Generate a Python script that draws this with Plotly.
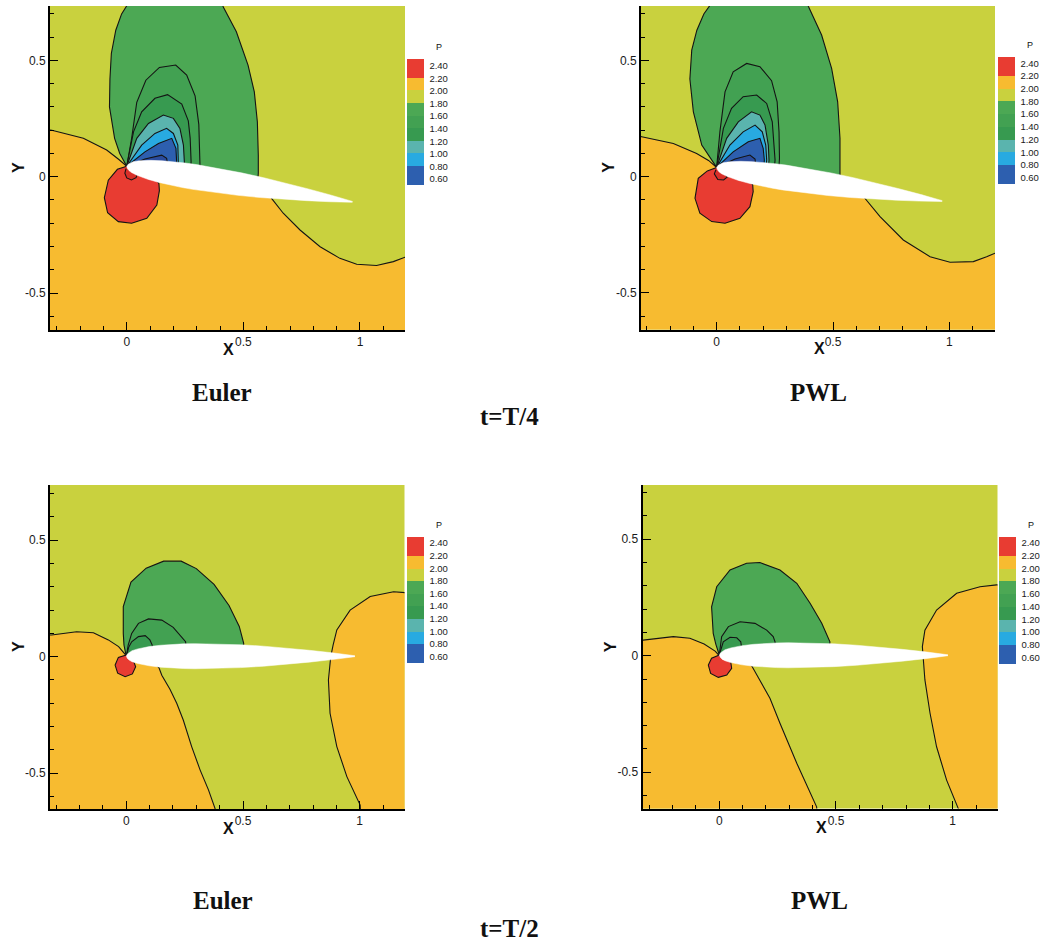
import plotly.graph_objects as go
import math

FIG_W, FIG_H = 1048, 943

# ---------------- legend / colour data ----------------
P_LEVELS = [0.60, 0.80, 1.00, 1.20, 1.40, 1.60, 1.80, 2.00, 2.20, 2.40]
BAND_EDGES = [0.5, 0.8, 1.0, 1.2, 1.4, 1.6, 1.8, 2.0, 2.2, 2.5]
BAND_KEYS = ["db", "lb", "t", "g3", "g2", "g1", "y", "o", "r"]

COLORS = {
    "r2": "#d72f29",   # > 2.40
    "r": "#e83c32",    # 2.20 - 2.40
    "o": "#f7bb30",    # 2.00 - 2.20
    "y": "#c9d13e",    # 1.80 - 2.00
    "g1": "#4ca854",   # 1.60 - 1.80
    "g2": "#42a152",   # 1.40 - 1.60
    "g3": "#379a50",   # 1.20 - 1.40
    "t": "#5ab4ae",    # 1.00 - 1.20
    "lb": "#28aae1",   # 0.80 - 1.00
    "db": "#2d5faf",   # 0.60 - 0.80
    "db2": "#2a4b9c",  # < 0.60
}

# ---------------- airfoil geometry ----------------
AF_STATION = [0, 0.005, 0.0125, 0.025, 0.05, 0.075, 0.10, 0.15, 0.20, 0.25,
              0.30, 0.40, 0.50, 0.60, 0.70, 0.80, 0.90, 0.95, 1.0]
AF_HALF = [0, 0.010, 0.017, 0.024, 0.032, 0.038, 0.042, 0.048, 0.052, 0.054,
           0.055, 0.054, 0.050, 0.044, 0.036, 0.026, 0.015, 0.009, 0.002]
AF_CHORD = 0.98
AF_LE = {"EA": (0.0, 0.045), "PA": (0.0, 0.040), "EB": (0.0, 0.002), "PB": (0.0, 0.002)}
AF_PITCH_DEG = {"EA": 9.0, "PA": 8.5, "EB": 0.0, "PB": 0.0}

# ---------------- contour regions: Euler, t=T/4 ----------------
EA_ORANGE = [(-0.45, 0.215), (-0.321, 0.20), (-0.186, 0.165), (-0.086, 0.115), (-0.035, 0.075),
             (0.0, 0.045), (0.30, -0.005), (0.60, -0.052), (0.621, -0.093), (0.671, -0.157),
             (0.743, -0.229), (0.829, -0.301), (0.914, -0.351), (0.986, -0.376), (1.071, -0.382),
             (1.143, -0.365), (1.193, -0.346), (1.30, -0.31), (1.30, -0.80), (-0.45, -0.80)]
EA_GREEN1 = [(0.0, 0.045), (-0.03, 0.10), (-0.052, 0.165), (-0.074, 0.30), (-0.072, 0.42),
             (-0.066, 0.53), (-0.047, 0.63), (-0.022, 0.70), (0.0, 0.735), (0.02, 0.80),
             (0.39, 0.80), (0.414, 0.73), (0.47, 0.623), (0.52, 0.48), (0.547, 0.365),
             (0.56, 0.236), (0.564, 0.093), (0.564, 0.015), (0.56, -0.04)]
EA_GREEN2 = [(0.0, 0.045), (0.021, 0.165), (0.043, 0.32), (0.082, 0.415), (0.14, 0.47),
             (0.21, 0.48), (0.257, 0.437), (0.293, 0.348), (0.309, 0.225), (0.313, 0.12),
             (0.314, 0.05), (0.31, 0.0)]
EA_GREEN3 = [(0.0, 0.045), (0.029, 0.193), (0.064, 0.279), (0.121, 0.337), (0.175, 0.353),
             (0.236, 0.312), (0.264, 0.240), (0.272, 0.165), (0.276, 0.064), (0.272, 0.0)]
EA_TEAL = [(0.0, 0.045), (0.043, 0.165), (0.093, 0.229), (0.157, 0.265), (0.20, 0.251),
           (0.228, 0.208), (0.243, 0.136), (0.247, 0.064), (0.245, 0.0)]
EA_LBLUE = [(0.0, 0.045), (0.064, 0.136), (0.121, 0.186), (0.171, 0.208), (0.20, 0.186),
            (0.219, 0.136), (0.221, 0.064), (0.22, 0.0)]
EA_DBLUE = [(0.0, 0.045), (0.078, 0.107), (0.136, 0.143), (0.193, 0.165), (0.211, 0.122),
            (0.214, 0.064), (0.21, 0.0)]
EA_DBLUE2 = [(0.0, 0.045), (0.078, 0.076), (0.15, 0.093), (0.171, 0.079), (0.176, 0.05), (0.17, 0.0)]
EA_RED = [(0.0, 0.045), (-0.04, 0.032), (-0.079, -0.015), (-0.096, -0.09), (-0.082, -0.155),
          (-0.036, -0.193), (0.021, -0.20), (0.086, -0.179), (0.129, -0.122), (0.14, -0.06),
          (0.138, -0.03), (0.12, 0.0)]
EA_RED2 = [(-0.003, 0.035), (-0.008, 0.015), (0.0, -0.005), (0.02, -0.014), (0.04, -0.004),
           (0.045, 0.01), (0.03, 0.03)]

# ---------------- contour regions: PWL, t=T/4 ----------------
PA_ORANGE = [(-0.45, 0.19), (-0.322, 0.172), (-0.186, 0.143), (-0.086, 0.10), (-0.035, 0.07),
             (0.0, 0.04), (0.30, -0.005), (0.62, -0.055), (0.637, -0.093), (0.702, -0.172),
             (0.802, -0.272), (0.917, -0.344), (1.003, -0.368), (1.103, -0.365), (1.16, -0.344),
             (1.196, -0.329), (1.30, -0.30), (1.30, -0.80), (-0.45, -0.80)]
PA_GREEN1 = [(0.0, 0.04), (-0.064, 0.136), (-0.10, 0.279), (-0.115, 0.42), (-0.107, 0.544),
             (-0.085, 0.63), (-0.055, 0.70), (-0.03, 0.735), (-0.01, 0.80), (0.38, 0.80),
             (0.394, 0.733), (0.451, 0.609), (0.494, 0.466), (0.52, 0.322), (0.53, 0.165),
             (0.532, 0.02), (0.53, -0.04)]
PA_GREEN2 = [(0.0, 0.04), (0.014, 0.193), (0.036, 0.365), (0.071, 0.451), (0.129, 0.487),
             (0.186, 0.473), (0.236, 0.413), (0.26, 0.322), (0.268, 0.193), (0.27, 0.079), (0.265, 0.0)]
PA_GREEN3 = [(0.0, 0.04), (0.029, 0.208), (0.064, 0.294), (0.114, 0.344), (0.172, 0.351),
             (0.215, 0.315), (0.239, 0.236), (0.248, 0.136), (0.251, 0.072), (0.245, 0.0)]
PA_TEAL = [(0.0, 0.04), (0.043, 0.165), (0.093, 0.236), (0.15, 0.279), (0.186, 0.265),
           (0.208, 0.222), (0.222, 0.136), (0.225, 0.072), (0.22, 0.0)]
PA_LBLUE = [(0.0, 0.04), (0.057, 0.136), (0.114, 0.193), (0.165, 0.222), (0.196, 0.193),
            (0.211, 0.136), (0.215, 0.072), (0.21, 0.0)]
PA_DBLUE = [(0.0, 0.04), (0.071, 0.107), (0.136, 0.15), (0.186, 0.165), (0.20, 0.122),
            (0.205, 0.072), (0.20, 0.0)]
PA_DBLUE2 = [(0.0, 0.04), (0.079, 0.076), (0.143, 0.093), (0.165, 0.076), (0.168, 0.05), (0.16, 0.0)]
PA_RED = [(0.0, 0.04), (-0.04, 0.025), (-0.079, -0.007), (-0.093, -0.093), (-0.072, -0.157),
          (-0.021, -0.193), (0.036, -0.20), (0.10, -0.179), (0.143, -0.129), (0.157, -0.064),
          (0.155, -0.035), (0.13, 0.0)]
PA_RED2 = [(-0.003, 0.03), (-0.01, 0.012), (0.005, -0.012), (0.03, -0.014), (0.045, -0.002), (0.03, 0.025)]

# ---------------- contour regions: Euler, t=T/2 ----------------
EB_ORANGE_L = [(-0.45, 0.09), (-0.32, 0.093), (-0.213, 0.107), (-0.141, 0.103), (-0.077, 0.072),
               (-0.033, 0.043), (-0.005, 0.01), (0.0, 0.0), (0.10, 0.0), (0.14, -0.048),
               (0.152, -0.08), (0.187, -0.14), (0.216, -0.20), (0.244, -0.272), (0.28, -0.386),
               (0.316, -0.486), (0.352, -0.572), (0.38, -0.651), (0.39, -0.80), (-0.45, -0.80)]
EB_ORANGE_R = [(1.30, 0.28), (1.194, 0.275), (1.145, 0.279), (1.045, 0.258), (0.959, 0.20),
               (0.902, 0.115), (0.886, 0.05), (0.876, 0.0), (0.866, -0.10), (0.873, -0.243),
               (0.902, -0.386), (0.945, -0.515), (1.002, -0.637), (1.01, -0.80), (1.30, -0.80)]
EB_GREEN1 = [(0.0, 0.0), (-0.01, 0.05), (-0.013, 0.10), (-0.013, 0.215), (0.02, 0.32),
             (0.085, 0.38), (0.16, 0.41), (0.235, 0.41), (0.30, 0.378), (0.376, 0.31),
             (0.44, 0.22), (0.484, 0.13), (0.503, 0.057), (0.50, 0.0)]
EB_GREEN2 = [(0.0, 0.0), (0.008, 0.05), (0.023, 0.10), (0.052, 0.143), (0.095, 0.162),
             (0.152, 0.157), (0.201, 0.126), (0.237, 0.086), (0.254, 0.064), (0.26, 0.0)]
EB_GREEN3 = [(0.0, 0.0), (0.01, 0.04), (0.023, 0.064), (0.052, 0.086), (0.081, 0.09),
             (0.101, 0.072), (0.111, 0.05), (0.11, 0.0)]
EB_RED = [(0.0, 0.007), (-0.034, -0.003), (-0.048, -0.036), (-0.037, -0.071), (-0.005, -0.086),
          (0.026, -0.074), (0.04, -0.043), (0.03, -0.017), (0.02, 0.0)]

# ---------------- contour regions: PWL, t=T/2 ----------------
PB_ORANGE_L = [(-0.45, 0.065), (-0.326, 0.067), (-0.197, 0.082), (-0.126, 0.075), (-0.065, 0.05),
               (-0.018, 0.02), (0.0, 0.0), (0.10, 0.0), (0.14, -0.045), (0.165, -0.09),
               (0.182, -0.119), (0.217, -0.183), (0.26, -0.29), (0.332, -0.462), (0.417, -0.649),
               (0.43, -0.80), (-0.45, -0.80)]
PB_ORANGE_R = [(1.30, 0.305), (1.188, 0.304), (1.117, 0.296), (1.017, 0.268), (0.931, 0.196),
               (0.881, 0.11), (0.87, 0.039), (0.874, -0.004), (0.881, -0.104), (0.903, -0.247),
               (0.931, -0.391), (0.974, -0.534), (1.024, -0.656), (1.03, -0.80), (1.30, -0.80)]
PB_GREEN1 = [(0.0, 0.003), (-0.015, 0.05), (-0.026, 0.096), (-0.033, 0.21), (-0.011, 0.296),
             (0.046, 0.368), (0.117, 0.397), (0.174, 0.40), (0.26, 0.368), (0.332, 0.311),
             (0.389, 0.225), (0.439, 0.139), (0.474, 0.06), (0.47, 0.0)]
PB_GREEN2 = [(0.0, 0.003), (0.01, 0.082), (0.039, 0.125), (0.089, 0.146), (0.153, 0.139),
             (0.203, 0.11), (0.231, 0.082), (0.239, 0.06), (0.24, 0.0)]
PB_GREEN3 = [(0.0, 0.003), (0.017, 0.06), (0.046, 0.079), (0.075, 0.077), (0.092, 0.06),
             (0.095, 0.04), (0.09, 0.0)]
PB_RED = [(0.0, 0.003), (-0.033, -0.011), (-0.047, -0.04), (-0.037, -0.076), (-0.004, -0.093),
          (0.032, -0.083), (0.053, -0.054), (0.049, -0.026), (0.03, 0.0)]

# ---------------- panel assembly (draw order) ----------------
PANEL_REGIONS = {
    "EA": [("o", EA_ORANGE), ("g1", EA_GREEN1), ("g2", EA_GREEN2), ("g3", EA_GREEN3),
           ("t", EA_TEAL), ("lb", EA_LBLUE), ("db", EA_DBLUE), ("db2", EA_DBLUE2),
           ("r", EA_RED), ("r2", EA_RED2)],
    "PA": [("o", PA_ORANGE), ("g1", PA_GREEN1), ("g2", PA_GREEN2), ("g3", PA_GREEN3),
           ("t", PA_TEAL), ("lb", PA_LBLUE), ("db", PA_DBLUE), ("db2", PA_DBLUE2),
           ("r", PA_RED), ("r2", PA_RED2)],
    "EB": [("o", EB_ORANGE_L), ("o", EB_ORANGE_R), ("g1", EB_GREEN1), ("g2", EB_GREEN2),
           ("g3", EB_GREEN3), ("r", EB_RED)],
    "PB": [("o", PB_ORANGE_L), ("o", PB_ORANGE_R), ("g1", PB_GREEN1), ("g2", PB_GREEN2),
           ("g3", PB_GREEN3), ("r", PB_RED)],
}

# ---------------- layout (pixel boxes) ----------------
PANEL_BOX = {  # left, top, right, bottom (px)
    "EA": (50, 6, 405, 330),
    "PA": (641, 6, 995, 329.5),
    "EB": (50, 485, 404.5, 809),
    "PB": (642.5, 485, 997.5, 808.5),
}
PANEL_RANGE = {
    "EA": ((-0.329, 1.193), (-0.659, 0.734)),
    "PA": ((-0.325, 1.196), (-0.657, 0.734)),
    "EB": ((-0.327, 1.192), (-0.654, 0.737)),
    "PB": ((-0.329, 1.192), (-0.656, 0.733)),
}
CBAR_BOX = {  # left, top, length (px)
    "EA": (407, 59.3, 126),
    "PA": (997.5, 57, 126.5),
    "EB": (407, 536.7, 126),
    "PB": (999.3, 536.7, 126.5),
}
ORDER = ["EA", "PA", "EB", "PB"]

fig = go.Figure()


def airfoil_outline(key):
    lx, ly = AF_LE[key]
    a = math.radians(AF_PITCH_DEG[key])
    cx, cy = math.cos(a), -math.sin(a)
    nx, ny = math.sin(a), math.cos(a)
    xs, ys = [], []
    for s, h in zip(reversed(AF_STATION), reversed(AF_HALF)):
        xs.append(lx + AF_CHORD * (s * cx + h * nx))
        ys.append(ly + AF_CHORD * (s * cy + h * ny))
    for s, h in zip(AF_STATION[1:], AF_HALF[1:]):
        xs.append(lx + AF_CHORD * (s * cx - h * nx))
        ys.append(ly + AF_CHORD * (s * cy - h * ny))
    return xs, ys


norm = lambda v: (v - BAND_EDGES[0]) / (BAND_EDGES[-1] - BAND_EDGES[0])
colorscale = []
for i, k in enumerate(BAND_KEYS):
    colorscale.append([norm(BAND_EDGES[i]), COLORS[k]])
    colorscale.append([norm(BAND_EDGES[i + 1]), COLORS[k]])

layout_axes = {}
annotations = []
LINE = dict(color="#141414", width=1.1)
SANS = "Liberation Sans, Arial, sans-serif"
AXFONT = dict(family=SANS, size=12, color="#1a1a1a")


def label(text, px, py, size, family=SANS, angle=0):
    return dict(text=text, x=px / FIG_W, y=1 - py / FIG_H, xref="paper", yref="paper",
                xanchor="center", yanchor="middle", showarrow=False, textangle=angle,
                font=dict(family=family, size=size, color="#111"))


for idx, key in enumerate(ORDER):
    n = idx + 1
    xa = "x" if n == 1 else f"x{n}"
    ya = "y" if n == 1 else f"y{n}"
    for band, poly in PANEL_REGIONS[key]:
        fig.add_trace(go.Scatter(
            x=[p[0] for p in poly], y=[p[1] for p in poly], xaxis=xa, yaxis=ya,
            mode="lines", fill="toself", fillcolor=COLORS[band], line=LINE,
            hoverinfo="skip", showlegend=False))
    ax, ay = airfoil_outline(key)
    fig.add_trace(go.Scatter(x=ax, y=ay, xaxis=xa, yaxis=ya, mode="lines", fill="toself",
                             fillcolor="white", line=dict(color="white", width=0.5),
                             hoverinfo="skip", showlegend=False))
    # colour legend
    cname = "coloraxis" if n == 1 else f"coloraxis{n}"
    fig.add_trace(go.Scatter(x=[None], y=[None], xaxis=xa, yaxis=ya, mode="markers",
                             marker=dict(color=[P_LEVELS[0]], coloraxis=cname),
                             hoverinfo="skip", showlegend=False))
    cl, ct, clen = CBAR_BOX[key]
    layout_axes[cname] = dict(
        cmin=BAND_EDGES[0], cmax=BAND_EDGES[-1], colorscale=colorscale,
        colorbar=dict(x=cl / FIG_W, xanchor="left", xpad=0, y=1 - ct / FIG_H, yanchor="top",
                      ypad=0, lenmode="pixels", len=clen, thicknessmode="pixels", thickness=17,
                      outlinewidth=0, tickvals=P_LEVELS, ticktext=[f"{v:.2f}" for v in P_LEVELS],
                      ticks="outside", ticklen=4, tickcolor="rgba(0,0,0,0)",
                      tickfont=dict(family=SANS, size=9.5, color="#1a1a1a")))
    annotations.append(label("P", cl + 32, ct - 12, 9))

    l, t, r, b = PANEL_BOX[key]
    xr, yr = PANEL_RANGE[key]
    common = dict(showgrid=False, zeroline=False, showline=True, linecolor="black", linewidth=2,
                  ticks="inside", ticklen=8, tickcolor="black", tickwidth=1.2,
                  tickfont=AXFONT, layer="above traces",
                  minor=dict(ticks="inside", ticklen=4, dtick=0.1, tick0=0, tickcolor="black",
                             tickwidth=1))
    layout_axes["xaxis" if n == 1 else f"xaxis{n}"] = dict(
        common, domain=[l / FIG_W, r / FIG_W], range=list(xr), anchor=ya,
        tickvals=[0, 0.5, 1], ticktext=["0", "0.5", "1"])
    layout_axes["yaxis" if n == 1 else f"yaxis{n}"] = dict(
        common, domain=[1 - b / FIG_H, 1 - t / FIG_H], range=list(yr), anchor=xa,
        tickvals=[-0.5, 0, 0.5], ticktext=["-0.5", "0", "0.5"])
    # axis titles
    annotations.append(label("<b>X</b>", (l + r) / 2 + 1, b + 19, 16))
    annotations.append(label("<b>Y</b>", l - 32, (t + b) / 2, 16, angle=-90))

# captions
CAPTIONS = [("Euler", 222, 392), ("PWL", 818, 392), ("t=T/4", 509, 416),
            ("Euler", 223, 900), ("PWL", 819, 900), ("t=T/2", 509, 928)]
for txt, px, py in CAPTIONS:
    annotations.append(label(f"<b>{txt}</b>", px, py, 25,
                             family="Liberation Serif, Times New Roman, serif"))

fig.update_layout(width=FIG_W, height=FIG_H, margin=dict(l=0, r=0, t=0, b=0),
                  paper_bgcolor="white", plot_bgcolor=COLORS["y"], showlegend=False,
                  annotations=annotations, **layout_axes)

fig.write_html("out.html")
